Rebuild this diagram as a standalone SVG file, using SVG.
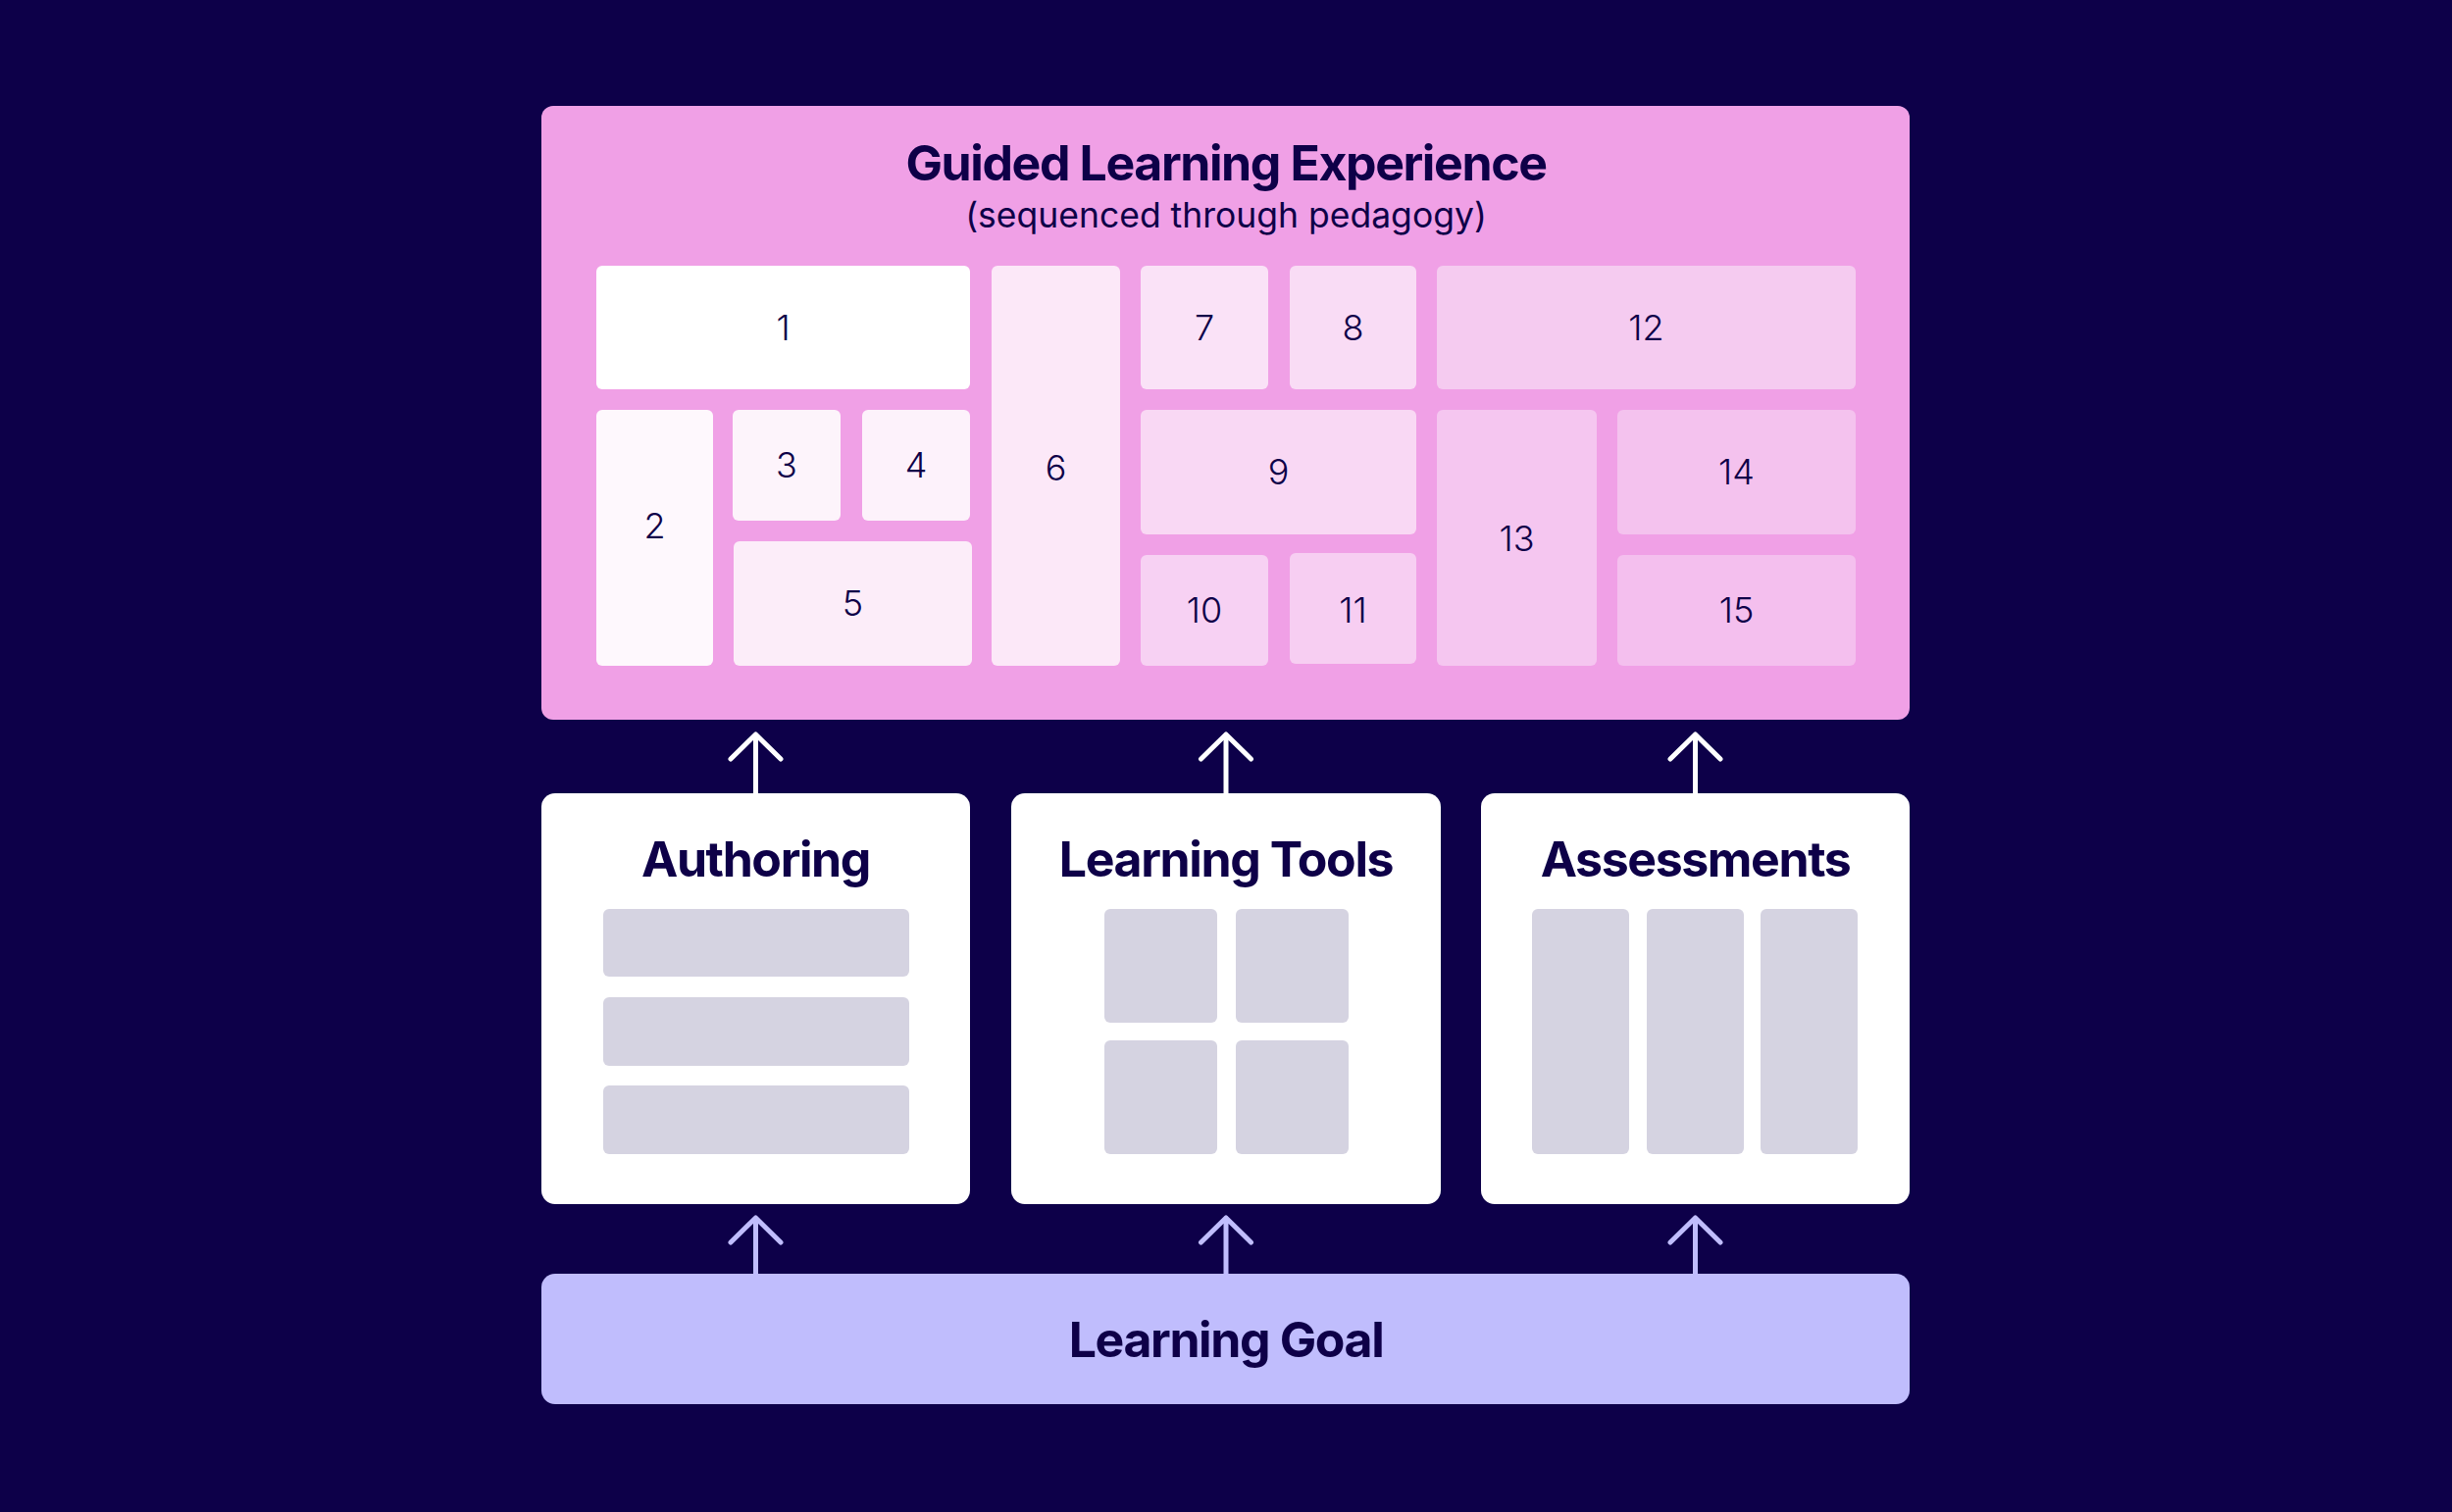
<svg xmlns="http://www.w3.org/2000/svg" width="2500" height="1542" viewBox="0 0 2500 1542">
<style>
.title{font-family:Inter,"Noto Sans","DejaVu Sans",sans-serif;font-weight:700;fill:#0E0048;text-anchor:middle;letter-spacing:-1.4px}
.num{font-family:Inter,"Noto Sans","DejaVu Sans",sans-serif;font-weight:300;font-size:36px;fill:#0E0048;text-anchor:middle}
.sub{font-family:Inter,"Noto Sans","DejaVu Sans",sans-serif;font-weight:400;font-size:35.5px;fill:#0E0048;text-anchor:middle}
.card{fill:#FFFFFF}
.ph{fill:#D5D3E1}
.arrw{fill:none;stroke:#FFFFFF;stroke-width:5;stroke-linecap:round;stroke-linejoin:round}
.arrl{fill:none;stroke:#C0BDFD;stroke-width:5;stroke-linecap:round;stroke-linejoin:round}
</style>
<rect x="0" y="0" width="2500" height="1542" fill="#0D0049"/>
<g id="guided-learning-experience">
<rect x="552" y="108" width="1395" height="626" rx="12" fill="#F0A0E6"/>
<text class="title" x="1250" y="184" font-size="50">Guided Learning Experience</text>
<text class="sub" x="1250" y="232">(sequenced through pedagogy)</text>
</g>
<g id="step-1"><rect x="608" y="271" width="381" height="126" rx="6" fill="#FFFFFF"/><text class="num" x="798.5" y="347">1</text></g>
<g id="step-2"><rect x="608" y="418" width="119" height="261" rx="6" fill="#FEF8FD"/><text class="num" x="667.5" y="549">2</text></g>
<g id="step-3"><rect x="747" y="418" width="110" height="113" rx="6" fill="#FDF4FB"/><text class="num" x="802" y="487">3</text></g>
<g id="step-4"><rect x="879" y="418" width="110" height="113" rx="6" fill="#FDF2FB"/><text class="num" x="934" y="487">4</text></g>
<g id="step-5"><rect x="748" y="552" width="243" height="127" rx="6" fill="#FCEDF9"/><text class="num" x="869.5" y="628">5</text></g>
<g id="step-6"><rect x="1011" y="271" width="131" height="408" rx="6" fill="#FCE8F8"/><text class="num" x="1076.5" y="490">6</text></g>
<g id="step-7"><rect x="1163" y="271" width="130" height="126" rx="6" fill="#FAE2F7"/><text class="num" x="1228" y="347">7</text></g>
<g id="step-8"><rect x="1315" y="271" width="129" height="126" rx="6" fill="#F9DCF5"/><text class="num" x="1379.5" y="347">8</text></g>
<g id="step-9"><rect x="1163" y="418" width="281" height="127" rx="6" fill="#F9D8F4"/><text class="num" x="1303.5" y="494">9</text></g>
<g id="step-10"><rect x="1163" y="566" width="130" height="113" rx="6" fill="#F7D1F3"/><text class="num" x="1228" y="635">10</text></g>
<g id="step-11"><rect x="1315" y="564" width="129" height="113" rx="6" fill="#F7CEF2"/><text class="num" x="1379.5" y="635">11</text></g>
<g id="step-12"><rect x="1465" y="271" width="427" height="126" rx="6" fill="#F5CBF0"/><text class="num" x="1678.5" y="347">12</text></g>
<g id="step-13"><rect x="1465" y="418" width="163" height="261" rx="6" fill="#F5C6F0"/><text class="num" x="1546.5" y="562">13</text></g>
<g id="step-14"><rect x="1649" y="418" width="243" height="127" rx="6" fill="#F4C2EE"/><text class="num" x="1770.5" y="494">14</text></g>
<g id="step-15"><rect x="1649" y="566" width="243" height="113" rx="6" fill="#F4BFEE"/><text class="num" x="1770.5" y="635">15</text></g>

<g id="authoring">
<rect class="card" x="552" y="809" width="437" height="419" rx="14"/>
<text class="title" x="770.5" y="894" font-size="50">Authoring</text>
<rect class="ph" x="615" y="927" width="312" height="69" rx="6"/>
<rect class="ph" x="615" y="1017" width="312" height="70" rx="6"/>
<rect class="ph" x="615" y="1107" width="312" height="70" rx="6"/>
</g>
<g id="learning-tools">
<rect class="card" x="1031" y="809" width="438" height="419" rx="14"/>
<text class="title" x="1250" y="894" font-size="50">Learning Tools</text>
<rect class="ph" x="1126" y="927" width="115" height="116" rx="6"/>
<rect class="ph" x="1260" y="927" width="115" height="116" rx="6"/>
<rect class="ph" x="1126" y="1061" width="115" height="116" rx="6"/>
<rect class="ph" x="1260" y="1061" width="115" height="116" rx="6"/>
</g>
<g id="assessments">
<rect class="card" x="1510" y="809" width="437" height="419" rx="14"/>
<text class="title" x="1728.5" y="894" font-size="50">Assessments</text>
<rect class="ph" x="1562" y="927" width="99" height="250" rx="6"/>
<rect class="ph" x="1679" y="927" width="99" height="250" rx="6"/>
<rect class="ph" x="1795" y="927" width="99" height="250" rx="6"/>
</g>
<g id="learning-goal">
<rect x="552" y="1299" width="1395" height="133" rx="14" fill="#C0BDFD"/>
<text class="title" x="1250" y="1384" font-size="50">Learning Goal</text>
</g>

<g id="connectors">
<path class="arrw" d="M770.5 809V749M745 774L770.5 749L796 774"/>
<path class="arrw" d="M1250 809V749M1224.5 774L1250 749L1275.5 774"/>
<path class="arrw" d="M1728.5 809V749M1703 774L1728.5 749L1754 774"/>
<path class="arrl" d="M770.5 1299V1242M745 1267L770.5 1242L796 1267"/>
<path class="arrl" d="M1250 1299V1242M1224.5 1267L1250 1242L1275.5 1267"/>
<path class="arrl" d="M1728.5 1299V1242M1703 1267L1728.5 1242L1754 1267"/>
</g>
</svg>
